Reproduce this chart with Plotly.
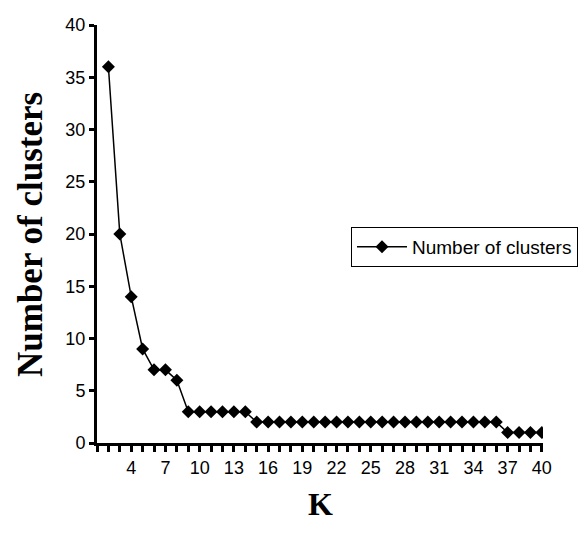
import plotly.graph_objects as go

k_values = list(range(2, 41))
num_clusters = [36, 20, 14, 9, 7, 7, 6,
                3, 3, 3, 3, 3, 3,
                2, 2, 2, 2, 2, 2, 2, 2, 2, 2, 2, 2, 2, 2, 2, 2, 2, 2, 2, 2, 2, 2,
                1, 1, 1, 1]
x_tick_vals = list(range(4, 41, 3))
x_tick_text = [str(v) for v in x_tick_vals]
y_tick_vals = list(range(0, 41, 5))

W, H = 579, 528
L, T = 89, 17
PW, PH = 446, 418

fig = go.Figure()
fig.add_trace(go.Scatter(
    x=k_values, y=num_clusters, mode="lines+markers",
    name="Number of clusters",
    line=dict(color="black", width=1.5),
    marker=dict(symbol="diamond", size=10, color="black"),
))

fig.update_layout(
    width=W, height=H,
    margin=dict(l=L, r=W - L - PW, t=T, b=H - T - PH, autoexpand=False),
    paper_bgcolor="white", plot_bgcolor="white",
    font=dict(family="Liberation Sans, Arial", size=18, color="black"),
    showlegend=True,
    legend=dict(x=(351 - 97) / PW, y=(443 - 227) / PH, xanchor="left", yanchor="top",
                bordercolor="black", borderwidth=1, bgcolor="white",
                font=dict(size=19), itemwidth=50),
    xaxis=dict(range=[1, 40.1], showline=True, linecolor="black", linewidth=3,
               tickvals=x_tick_vals, ticktext=x_tick_text, ticks="outside",
               ticklen=6, tickwidth=3, tickcolor="black", showgrid=False,
               zeroline=False,
               minor=dict(dtick=1, tick0=1, ticks="outside", ticklen=6, tickwidth=3,
                          tickcolor="black", showgrid=False)),
    yaxis=dict(range=[0, 40], showline=True, linecolor="black", linewidth=3,
               tickvals=y_tick_vals, ticks="outside", ticklen=5, tickwidth=3,
               tickcolor="black", showgrid=False, zeroline=False),
    annotations=[
        dict(text="<b>Number of clusters</b>", xref="paper", yref="paper",
             x=(30 - 97) / PW, y=(443 - 235) / PH, xanchor="center", yanchor="middle",
             textangle=-90, showarrow=False,
             font=dict(family="Liberation Serif, Times New Roman", size=35)),
        dict(text="<b>K</b>", xref="paper", yref="paper", x=0.5, y=(443 - 504) / PH,
             xanchor="center", yanchor="middle", showarrow=False,
             font=dict(family="Liberation Serif, Times New Roman", size=32)),
    ],
)

fig.write_html("out.html")
